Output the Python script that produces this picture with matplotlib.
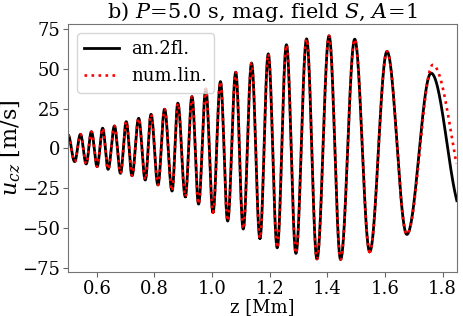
import numpy as np
import matplotlib
matplotlib.use("Agg")
import matplotlib.pyplot as plt

plt.rcParams['font.family'] = ['DejaVu Serif']
plt.rcParams['mathtext.fontset'] = 'dejavuserif'

# extrema of the analytical (two-fluid) curve
z_an = [0.500, 0.523, 0.543, 0.563, 0.581, 0.601, 0.620, 0.639, 0.661, 0.682,
        0.702, 0.722, 0.745, 0.768, 0.788, 0.812, 0.835, 0.861, 0.881, 0.907,
        0.930, 0.953, 0.978, 1.003, 1.029, 1.054, 1.082, 1.108, 1.137, 1.166,
        1.195, 1.226, 1.258, 1.291, 1.328, 1.364, 1.406, 1.446, 1.495, 1.547,
        1.607, 1.676, 1.760, 1.870]
u_an = [8.5, -8.3, 8.9, -9.7, 10.5, -11.4, 12.7, -13.1, 14.1, -15.6,
        16.8, -17.1, 18.9, -19.8, 21.4, -22.9, 24.6, -26.7, 28.4, -30.3,
        32.5, -34.9, 37.3, -40.1, 41.9, -45.5, 47.8, -50.5, 53.5, -56.4,
        59.3, -62.3, 65.0, -65.8, 68.7, -69.3, 70.6, -69.6, 68.5, -64.8,
        60.8, -53.9, 47.2, -40.0]

# numerical linear run: same as above up to the last trough, then differs
z_num = z_an[:-2] + [1.766, 1.900]
u_num = u_an[:-2] + [52.4, -40.0]

z_max = 1.85


def wave_through(z_ext, u_ext, n=60):
    # half-cosine arcs between successive extrema
    zs, us = [], []
    for z0, z1, u0, u1 in zip(z_ext[:-1], z_ext[1:], u_ext[:-1], u_ext[1:]):
        t = np.linspace(0, 1, n)
        zs.append(z0 + t * (z1 - z0))
        us.append(0.5 * (u0 + u1) + 0.5 * (u0 - u1) * np.cos(np.pi * t))
    zs = np.concatenate(zs)
    us = np.concatenate(us)
    keep = zs <= z_max
    return zs[keep], us[keep]


fig = plt.figure(figsize=(4.63, 3.16), dpi=100)
ax = fig.add_axes([0.147, 0.139, 0.840, 0.785])

za, ua = wave_through(z_an, u_an)
zn, un = wave_through(z_num, u_num)
ax.plot(za, ua, color='black', lw=2.0, label='an.2fl.')
ax.plot(zn, un, color='red', lw=1.9, ls=':', label='num.lin.')

ax.set_xlim(0.5, z_max)
ax.set_ylim(-77.5, 78)
ax.set_xticks([0.6, 0.8, 1.0, 1.2, 1.4, 1.6, 1.8])
ax.set_yticks([-75, -50, -25, 0, 25, 50, 75])
ax.tick_params(labelsize=13, color='0.4', pad=2)
for s in ax.spines.values():
    s.set_color('0.45')

ax.set_xlabel('z [Mm]', fontsize=13, labelpad=0)
ax.set_ylabel(r'$u_{cz}$ [m/s]', fontsize=16)
ax.yaxis.set_label_coords(-0.115, 0.5)
ax.set_title(r'b) $P\!=\!5.0$ s, mag. field $S$, $A\!=\!1$', fontsize=15, pad=2)
ax.legend(loc='upper left', fontsize=13, handlelength=1.9, handletextpad=0.7)

fig.savefig('out.png', dpi=100)
